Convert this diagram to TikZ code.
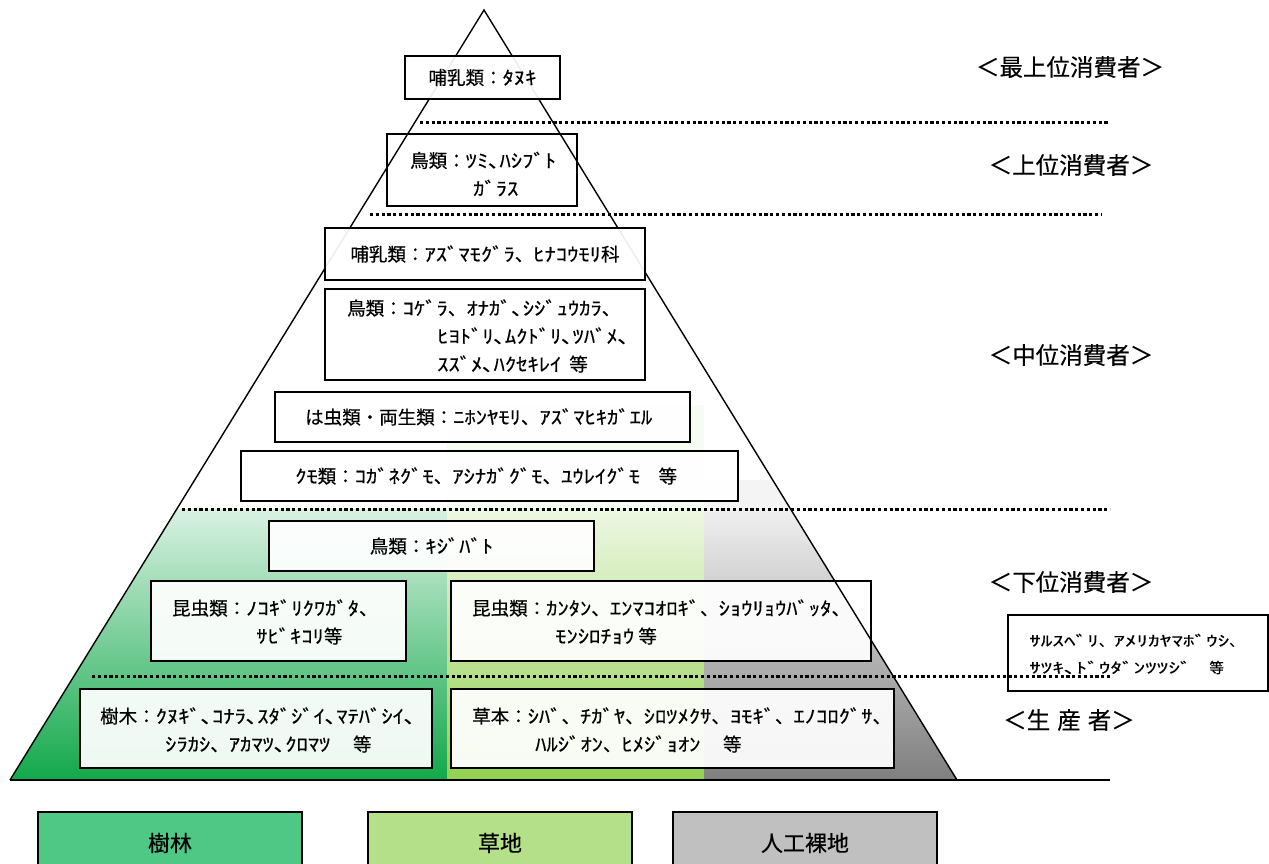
\documentclass[tikz,border=0pt]{standalone}
\usepackage{fontspec}
\setmainfont{Noto Sans CJK JP}[FakeBold=0.4]
\newfontfamily\hkf{Noto Sans CJK JP}[FakeStretch=1.22,FakeBold=0.4]
\newfontfamily\hkg{Noto Sans CJK JP}[FakeStretch=1.6,FakeBold=0.3]
\newcommand\hk[1]{{\hkf #1}}
\newcommand\hg[1]{{\hkg #1}}
\definecolor{gA}{HTML}{12A84A}
\definecolor{gB}{HTML}{92D050}
\definecolor{gC}{HTML}{7F7F7F}
\definecolor{legA}{HTML}{4EC884}
\definecolor{legB}{HTML}{B3E088}
\definecolor{legC}{HTML}{C0C0C0}
\begin{document}
\begin{tikzpicture}[x=1pt,y=-1pt,
  box/.style={draw=black, line width=1.6pt, fill=white, fill opacity=0.93, text opacity=1,
    inner sep=0pt, font=\fontsize{18.5}{28}\selectfont},
  txt/.style={anchor=west, align=left, inner sep=0pt, font=\fontsize{18.5}{28}\selectfont},
  lvl/.style={inner sep=0pt, font=\fontsize{23.5}{26}\selectfont},
  dots/.style={line width=3pt, dash pattern=on 3.2pt off 2.6pt},
  edge/.style={line width=1.4pt, black},
  leg/.style={draw=black, line width=1.5pt, minimum width=264pt, minimum height=62pt,
    inner sep=0pt, font=\fontsize{22}{24}\selectfont},
]
\useasboundingbox (0,0) rectangle (1269,864);
\coordinate (A) at (484,10);
\coordinate (L) at (10,780);
\coordinate (R) at (957,780);
\coordinate (E) at (1110,780);
% faint tint above the shaded region
\fill[gB!7!white] (447,405) rectangle (704,509);
\fill[gC!9!white] (704,480) -- (772.7,480) -- (790.5,509) -- (704,509) -- cycle;
% shaded bottom region
\shade[top color=gA!16!white, bottom color=gA] (176.8,509) -- (447,509) -- (447,780) -- (10,780) -- cycle;
\shade[top color=gB!16!white, bottom color=gB] (447,509) -- (704,509) -- (704,780) -- (447,780) -- cycle;
\shade[top color=gC!12!white, bottom color=gC] (704,509) -- (790.5,509) -- (957,780) -- (704,780) -- cycle;
% boxes crossed by the edges
\node[box, minimum width=190pt, minimum height=72pt] (b2) at (482,170) {};
\node[txt] (t2) at (410,174) {鳥類：\hk{ﾂﾐ､ﾊｼﾌﾞﾄ}\\\hspace*{63pt}\hk{ｶﾞﾗｽ}};
\node[box, minimum width=420pt, minimum height=80pt] (b9) at (661,621) {};
\node[txt] (t9) at (472,622) {昆虫類：\hk{ｶﾝﾀﾝ}、\hk{ｴﾝﾏｺｵﾛｷﾞ}、\hk{ｼｮｳﾘｮｳﾊﾞｯﾀ}、\\\hspace*{83pt}\hk{ﾓﾝｼﾛﾁｮｳ} 等};
% triangle
\draw[edge, line join=miter] (L) -- (A) -- (R);
\draw[line width=2pt] (L) -- (E);
% boxes over the edges
\node[box, minimum width=155pt, minimum height=43pt] (b1) at (482.5,77.5) {哺乳類：\hk{ﾀﾇｷ}};
\node[box, minimum width=320pt, minimum height=52pt] (b3) at (485,254) {哺乳類：\hk{ｱｽﾞﾏﾓｸﾞﾗ}、\hk{ﾋﾅｺｳﾓﾘ}科};
\node[box, minimum width=320pt, minimum height=91pt] (b4) at (485,334.5) {};
\node[txt] (t4) at (347,336) {鳥類：\hk{ｺｹﾞﾗ}、\hk{ｵﾅｶﾞ､ｼｼﾞｭｳｶﾗ}、\\\hspace*{90pt}\hk{ﾋﾖﾄﾞﾘ､ﾑｸﾄﾞﾘ､ﾂﾊﾞﾒ､}\\\hspace*{90pt}\hk{ｽｽﾞﾒ､ﾊｸｾｷﾚｲ}\hspace{8pt}等};
\node[box, minimum width=415pt, minimum height=50pt] (b5) at (482.5,417) {};
\node[txt] (t5) at (305,417) {は虫類・両生類：\hk{ﾆﾎﾝﾔﾓﾘ}、\hk{ｱｽﾞﾏﾋｷｶﾞｴﾙ}};
\node[box, minimum width=497pt, minimum height=50pt] (b6) at (489.5,476) {};
\node[txt] (t6) at (295,476) {\hk{ｸﾓ}類：\hk{ｺｶﾞﾈｸﾞﾓ}、\hk{ｱｼﾅｶﾞｸﾞﾓ}、\hk{ﾕｳﾚｲｸﾞﾓ}　等};
\node[box, minimum width=325pt, minimum height=50pt] (b7) at (431.5,546) {鳥類：\hk{ｷｼﾞﾊﾞﾄ}};
\node[box, minimum width=255pt, minimum height=80pt] (b8) at (278.5,621) {};
\node[txt] (t8) at (172,622) {昆虫類：\hk{ﾉｺｷﾞﾘｸﾜｶﾞﾀ}、\\\hspace*{84pt}\hk{ｻﾋﾞｷｺﾘ}等};
\node[box, minimum width=352pt, minimum height=79pt] (b10) at (256,728.5) {};
\node[txt] (t10) at (100,730) {樹木：\hk{ｸﾇｷﾞ､ｺﾅﾗ､ｽﾀﾞｼﾞｲ､ﾏﾃﾊﾞｼｲ､}\\\hspace*{65pt}\hk{ｼﾗｶｼ}、\hk{ｱｶﾏﾂ､ｸﾛﾏﾂ}　 等};
\node[box, minimum width=443pt, minimum height=79pt] (b11) at (672.5,728.5) {};
\node[txt] (t11) at (472,730) {草本：\hk{ｼﾊﾞ}、\hk{ﾁｶﾞﾔ}、\hk{ｼﾛﾂﾒｸｻ}、\hk{ﾖﾓｷﾞ}、\hk{ｴﾉｺﾛｸﾞｻ}、\\\hspace*{63pt}\hk{ﾊﾙｼﾞｵﾝ}、\hk{ﾋﾒｼﾞｮｵﾝ}　 等};
\node[box, minimum width=260pt, minimum height=76pt] (b12) at (1138,653) {};
\node[txt, font=\fontsize{14.5}{27}\selectfont] (t12) at (1029,654) {\hg{ｻﾙｽﾍﾞﾘ}、\hg{ｱﾒﾘｶﾔﾏﾎﾞｳｼ}、\\\hg{ｻﾂｷ､ﾄﾞｳﾀﾞﾝﾂﾂｼﾞ}　 等};
% dotted level lines
\coordinate (d1a) at (420,123); \coordinate (d1b) at (1110,123);
\coordinate (d2a) at (370,214); \coordinate (d2b) at (1102,214);
\coordinate (d3a) at (182,509); \coordinate (d3b) at (1110,509);
\coordinate (d4a) at (92,676);  \coordinate (d4b) at (1110,676);
\draw[dots] (d1a) -- (d1b);
\draw[dots] (d2a) -- (d2b);
\draw[dots] (d3a) -- (d3b);
\draw[dots] (d4a) -- (d4b);
% level labels
\node[lvl] (l1) at (1070,67) {＜最上位消費者＞};
\node[lvl] (l2) at (1071,165) {＜上位消費者＞};
\node[lvl] (l3) at (1071,355) {＜中位消費者＞};
\node[lvl] (l4) at (1071,582) {＜下位消費者＞};
\node[lvl] (l5) at (1069,720) {＜生\hspace{7pt}産\hspace{7pt}者＞};
% legend
\node[leg, fill=legA] (g1) at (170,843) {樹林};
\node[leg, fill=legB] (g2) at (500,843) {草地};
\node[leg, fill=legC] (g3) at (805,843) {人工裸地};
\end{tikzpicture}
\end{document}
